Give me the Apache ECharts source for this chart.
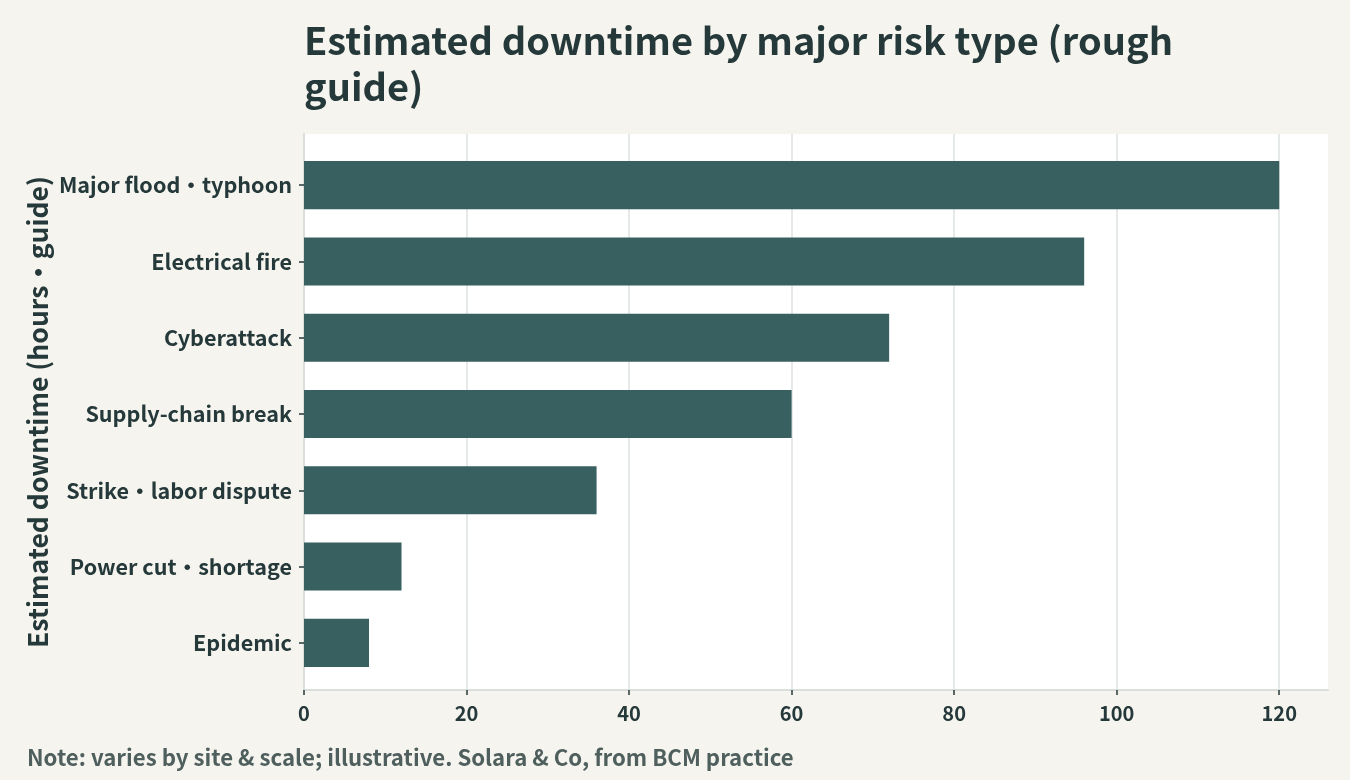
<!DOCTYPE html>
<html>
<head>
<meta charset="utf-8">
<script src="https://cdn.jsdelivr.net/npm/echarts@6/dist/echarts.min.js"></script>
<style>
  html, body { margin: 0; padding: 0; background: #f5f4ef; }
  #chart { width: 1350px; height: 780px; }
</style>
</head>
<body>
<div id="chart"></div>
<script>
// data
const categories = [
  "Major flood・typhoon",
  "Electrical fire",
  "Cyberattack",
  "Supply-chain break",
  "Strike・labor dispute",
  "Power cut・shortage",
  "Epidemic"
];
const downtimeHours = [120, 96, 72, 60, 36, 12, 8];
const xTicks = [0, 20, 40, 60, 80, 100, 120];

const FONT = "Noto Sans CJK JP";
const INK = "#26393a";

const chart = echarts.init(document.getElementById("chart"));

const option = {
  backgroundColor: "#f5f4ef",
  textStyle: { fontFamily: FONT },
  title: [
    {
      text: "Estimated downtime by major risk type (rough\nguide)",
      left: 299,
      top: 13,
      textStyle: { fontFamily: FONT, fontSize: 38, fontWeight: "bold", color: INK, lineHeight: 46 }
    },
    {
      text: "Note: varies by site & scale; illustrative. Solara & Co, from BCM practice",
      left: 22,
      top: 741,
      textStyle: { fontFamily: FONT, fontSize: 22.2, fontWeight: "bold", color: "#4f5f5d" }
    }
  ],
  grid: [
    // panel: white background, gridlines, x axis
    { left: 304, right: 22, top: 134, bottom: 90, show: true, backgroundColor: "#ffffff", borderWidth: 0 },
    // bars: inset so the bands sit like the reference
    { left: 304, right: 22, top: 147, bottom: 99 }
  ],
  xAxis: [
    {
      gridIndex: 0,
      type: "value",
      min: 0,
      max: 126,
      interval: 20,
      axisLine: { show: true, lineStyle: { color: "#dadfdc", width: 2 } },
      axisTick: { show: true, length: 5, customValues: xTicks, lineStyle: { color: INK, width: 1.5 } },
      axisLabel: {
        fontFamily: FONT, fontSize: 20, fontWeight: "bold", color: INK, margin: 13,
        customValues: xTicks
      },
      splitLine: { show: true, lineStyle: { color: "#dde3e1", width: 1.5 } }
    },
    {
      gridIndex: 1,
      type: "value",
      min: 0,
      max: 126,
      show: false,
      splitLine: { show: false }
    }
  ],
  yAxis: [
    {
      gridIndex: 0,
      type: "value",
      min: 0,
      max: 1,
      axisLine: { show: true, lineStyle: { color: "#dadfdc", width: 2 } },
      axisTick: { show: false },
      axisLabel: { show: false },
      splitLine: { show: false },
      name: "Estimated downtime (hours・guide)",
      nameLocation: "middle",
      nameGap: 253,
      nameRotate: 90,
      nameTextStyle: { fontFamily: FONT, fontSize: 26.5, fontWeight: "bold", color: INK }
    },
    {
      gridIndex: 1,
      type: "category",
      data: categories,
      inverse: true,
      axisLine: { show: false },
      axisTick: { show: true, alignWithLabel: true, length: 5, lineStyle: { color: INK, width: 1.5 } },
      axisLabel: { fontFamily: FONT, fontSize: 21.6, fontWeight: "bold", color: INK, margin: 12 },
      splitLine: { show: false }
    }
  ],
  series: [
    {
      type: "bar",
      xAxisIndex: 1,
      yAxisIndex: 1,
      data: downtimeHours,
      barCategoryGap: "37%",
      itemStyle: { color: "#386060" }
    }
  ]
};

chart.setOption(option);
</script>
</body>
</html>
